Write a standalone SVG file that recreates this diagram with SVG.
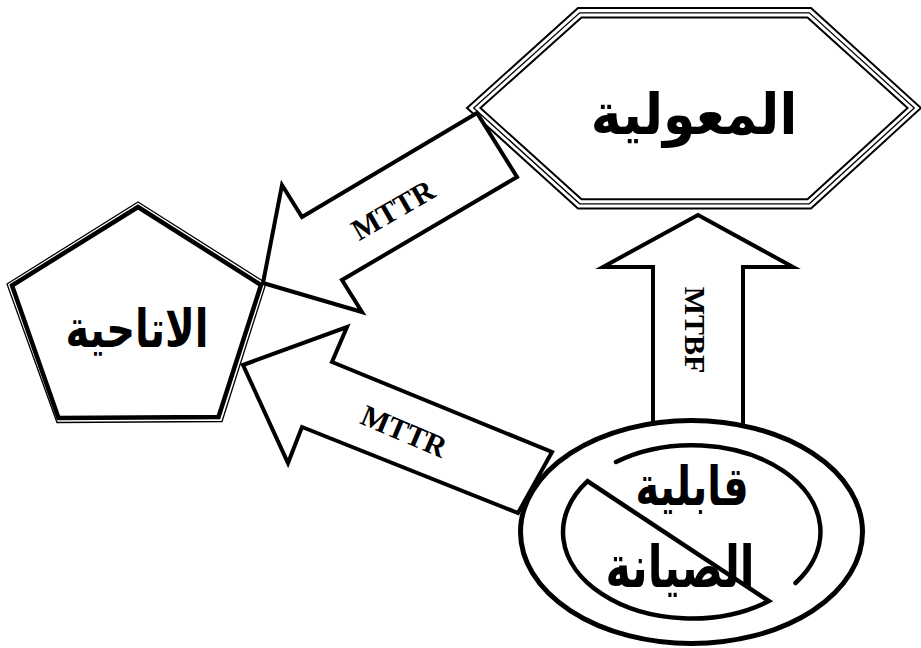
<svg xmlns="http://www.w3.org/2000/svg" width="921" height="648" viewBox="0 0 921 648">
<style>
.arrow{fill:#fff;stroke:#000;stroke-width:4;stroke-linejoin:miter;stroke-miterlimit:10}
.lat{font-family:"Liberation Serif","Times New Roman",serif;font-weight:bold;font-size:30px;fill:#000}
.ar{font-family:"DejaVu Sans","Noto Sans",sans-serif;font-weight:bold;fill:#000;text-anchor:middle}
.ln{fill:none;stroke:#000}
</style>
<rect width="921" height="648" fill="#fff"/>
<g id="hexagon-reliability">
<polygon points="467,108 578,8 811,8 921,108 811,208.5 578,208.5" fill="#fff" stroke="#000" stroke-width="2"/>
<polygon class="ln" points="473.7,108 579.7,12.8 809.3,12.8 914.3,108 809.3,203.8 579.7,203.8" stroke-width="1.3"/>
<polygon class="ln" points="480.4,108 581.5,17.5 807.5,17.5 907.6,108 807.5,199.3 581.5,199.3" stroke-width="2"/>
<text class="ar" x="694" y="134" font-size="52" transform="translate(694,134) scale(1,1.1) translate(-694,-134)">المعولية</text>
</g>
<g id="pentagon-availability">
<polygon points="138,202 266,283 222,421.5 57,422.5 7,284" fill="#fff" stroke="#000" stroke-width="1.3"/>
<polygon class="ln" points="138,207 261,285 218.5,417 58.5,418 12,285.5" stroke-width="4.5"/>
<text class="ar" font-size="40" transform="translate(137,347) scale(1,1.3)">الاتاحية</text>
</g>
<g id="connectors">
<g id="arrow-mttr-top">
<polygon class="arrow" points="263,283 282,185 302,217 477,113 517,177 342,280 362,312"/>
<text class="lat" text-anchor="middle" transform="translate(393,210) rotate(-30)" x="0" y="10">MTTR</text>
</g>
<g id="arrow-mttr-bottom">
<polygon class="arrow" points="243,365 347,327 332,362 552,452 518,513 302,427 288,463"/>
<text class="lat" text-anchor="middle" transform="translate(404,431.5) rotate(23)" x="0" y="10">MTTR</text>
</g>
<g id="arrow-mtbf">
<polygon class="arrow" points="698,215 793,267 743,267 743,450 653,450 653,267 603,267"/>
<text class="lat" text-anchor="middle" transform="translate(685,330) rotate(90)" x="0" y="0" font-size="33">MTBF</text>
</g>
</g>
<g id="ellipse-maintainability">
<ellipse cx="691.5" cy="532" rx="171" ry="111.5" fill="#fff" stroke="#000" stroke-width="5"/>
<path class="ln" d="M616,462 A128.5,86.5 0 0 1 795.5,583" stroke-width="4.5" stroke-linecap="round"/>
<path class="ln" d="M587.5,481.2 A128.5,86.5 0 0 0 768.8,601.1 Z" stroke-width="4.5" stroke-linejoin="miter"/>
<text class="ar" font-size="40" transform="translate(692,505) scale(1,1.35)">قابلية</text>
<text class="ar" font-size="43" transform="translate(680,587) scale(1,1.35)">الصيانة</text>
</g>
</svg>
